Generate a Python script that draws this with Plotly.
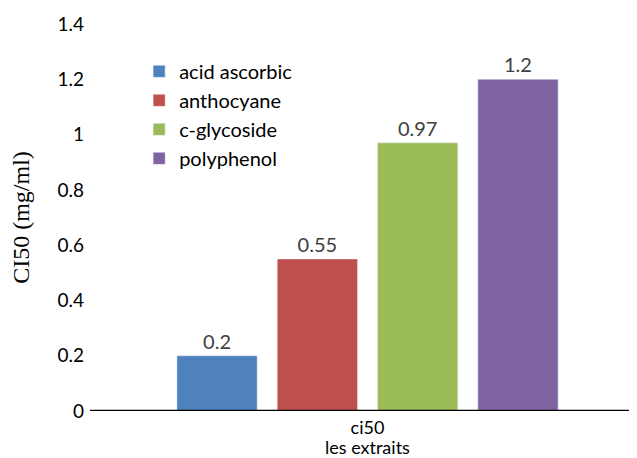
import plotly.graph_objects as go

categories = ["ci50"]
series_names = ["acid ascorbic", "anthocyane", "c-glycoside", "polyphenol"]
values = [0.2, 0.55, 0.97, 1.2]
labels = ["0.2", "0.55", "0.97", "1.2"]
colors = ["#4F81BD", "#C0504D", "#9BBB59", "#8064A2"]
y_ticks = [0, 0.2, 0.4, 0.6, 0.8, 1, 1.2, 1.4]
y_ticktext = ["0", "0.2", "0.4", "0.6", "0.8", "1", "1.2", "1.4"]
x_title = "les extraits"
y_title = "CI50 (mg/ml)"

FONT = "Lato, Open Sans, sans-serif"

fig = go.Figure()
for name, v, lab, c in zip(series_names, values, labels, colors):
    fig.add_trace(go.Bar(
        x=categories, y=[v], name=name, marker_color=c,
        text=[lab], textposition="outside",
        textfont=dict(family=FONT, size=20, color="#404040"),
        cliponaxis=False,
    ))

# page body has an 8px margin, so the figure is sized/offset to compensate
fig.update_layout(
    width=629, height=450,
    margin=dict(l=82, r=7, t=16, b=47),
    paper_bgcolor="white", plot_bgcolor="white",
    barmode="group", bargap=0.257, bargroupgap=0.2,
    font=dict(family=FONT, size=19, color="black"),
    showlegend=True,
    legend=dict(x=0.091, y=0.928, xanchor="left", yanchor="top",
                font=dict(size=20, color="black"), tracegroupgap=0,
                bgcolor="rgba(0,0,0,0)", itemwidth=30),
    xaxis=dict(range=[-0.5139, 0.4861], showline=False, showgrid=False,
               ticks="", tickfont=dict(size=18), automargin=False,
               ticklabelstandoff=4),
    yaxis=dict(range=[0, 1.4], tickvals=y_ticks, ticktext=y_ticktext,
               showgrid=False, showline=False, zeroline=False, ticks="",
               tickfont=dict(size=19), automargin=False, ticklabelstandoff=5,
               title=dict(text=y_title, standoff=27,
                          font=dict(family="Liberation Serif, Times New Roman, serif", size=24))),
    annotations=[dict(text=x_title, xref="paper", yref="paper", x=0.5139, y=0,
                      xanchor="center", yanchor="middle", yshift=-36,
                      showarrow=False, font=dict(size=18, color="black"))],
)
fig.add_shape(type="line", xref="paper", yref="y", x0=0, x1=1, y0=0, y1=0,
              line=dict(color="black", width=2.5))
fig.write_html("out.html")
